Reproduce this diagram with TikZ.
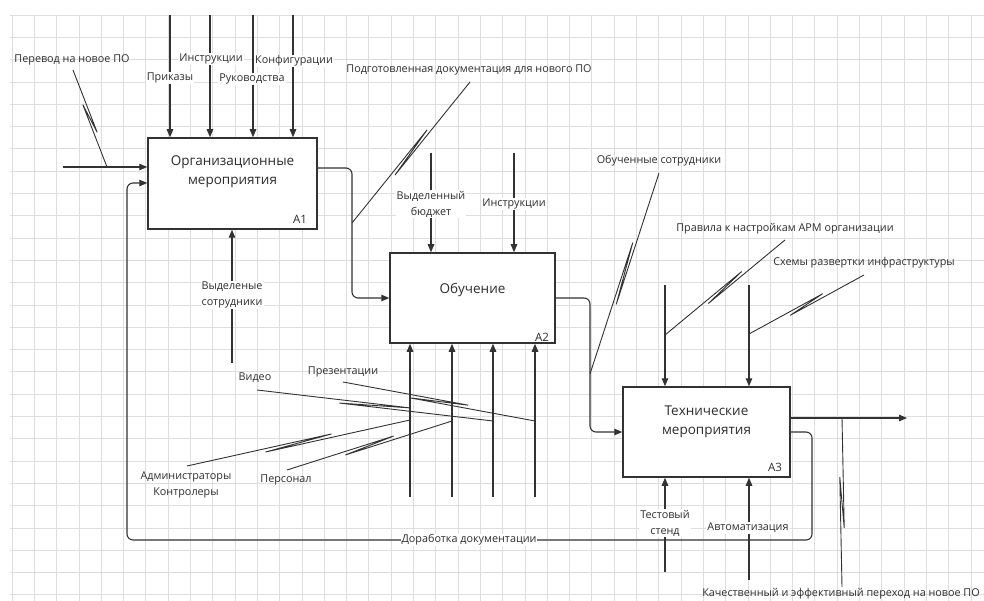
\documentclass[tikz,border=0pt]{standalone}
\usepackage{fontspec}
\setmainfont{Open Sans}
\usetikzlibrary{arrows.meta,calc}
\definecolor{lc}{RGB}{50,50,50}
\definecolor{tc}{RGB}{45,45,45}
\definecolor{gc}{RGB}{222,222,222}
\newcommand{\sqg}[2]{\draw[ln] (#1) -- ($(#1)!.65!(#2)!2.2pt!90:(#2)$) -- ($(#1)!.35!(#2)!2.2pt!-90:(#2)$) -- (#2);}
\begin{document}
\begin{tikzpicture}[x=1pt,y=-1pt,
  gridline/.style={draw=gc, line width=0.7pt},
  box/.style={draw=lc, line width=1.5pt, fill=white, inner sep=0pt},
  arr/.style={draw=lc, line width=1.1pt, -{Triangle[length=8pt,width=6.5pt]}},
  ln/.style={draw=lc, line width=0.9pt},
  rc/.style={rounded corners=6pt},
  lbl/.style={font=\fontsize{10.8}{16}\selectfont, text=tc, inner sep=1pt, align=center},
  wl/.style={lbl, fill=white},
  ttl/.style={font=\fontsize{13.5}{19}\selectfont, text=tc, align=center, inner sep=0pt},
  num/.style={font=\fontsize{11.5}{12}\selectfont, text=tc, inner sep=0pt}]
\useasboundingbox (0,0) rectangle (984,601);
\fill[white] (0,0) rectangle (984,601);
% grid
\foreach \i in {0,...,43} \draw[gridline] ({12+22.3*\i},15) -- ({12+22.3*\i},601);
\foreach \j in {0,...,26} \draw[gridline] (10,{15+22.3*\j}) -- (984,{15+22.3*\j});
% boxes
\node[box, minimum width=169pt, minimum height=91pt] (A1) at (232.5,183.5) {};
\node[box, minimum width=165pt, minimum height=90pt] (A2) at (472.5,298) {};
\node[box, minimum width=167pt, minimum height=90pt] (A3) at (706.5,432) {};
\node[ttl] (t1) at (232.5,171.5) {Организационные\\мероприятия};
\node[ttl] (t2) at (472.5,290) {Обучение};
\node[ttl] (t3) at (706.5,422) {Технические\\мероприятия};
\node[num] (n1) at (300,219) {A1};
\node[num] (n2) at (542,337) {A2};
\node[num] (n3) at (775,467) {A3};
% A1 input and loop
\coordinate (in1) at (63,167);
\draw[arr] (in1) -- (in1 -| A1.west);
\coordinate (lp1) at (812,540);
\coordinate (lp2) at (127,540);
\coordinate (lp3) at (127,183);
\draw[arr, rc] (A3.east) -- (A3.east -| lp1) -- (lp1) -- (lp2) -- (lp3) -- (lp3 -| A1.west);
% A1 -> A2
\coordinate (o1) at (352,168);
\draw[arr, rc] (o1 -| A1.east) -- (o1) -- (o1 |- A2.west) -- (A2.west);
% A2 -> A3
\coordinate (o2) at (590,298);
\draw[arr, rc] (A2.east) -- (o2) -- (o2 |- A3.west) -- (A3.west);
% A3 output
\coordinate (o3) at (907,418);
\draw[arr] (o3 -| A3.east) -- (o3);
% A1 controls
\foreach \x/\n in {170/a,210/b,253/c,293/d} {
  \coordinate (k1\n) at (\x,15);
  \draw[arr] (k1\n) -- (k1\n |- A1.north);
}
% A1 mechanism
\coordinate (m1) at (232,363);
\draw[arr] (m1) -- (m1 |- A1.south);
% A2 controls
\foreach \x/\n in {431/a,514/b} {
  \coordinate (k2\n) at (\x,153);
  \draw[arr] (k2\n) -- (k2\n |- A2.north);
}
% A2 mechanisms
\foreach \x/\n in {410/a,452/b,493/c,535/d} {
  \coordinate (m2\n) at (\x,497);
  \draw[arr] (m2\n) -- (m2\n |- A2.south);
}
% A3 controls
\foreach \x/\n in {665/a,749/b} {
  \coordinate (k3\n) at (\x,285);
  \draw[arr] (k3\n) -- (k3\n |- A3.north);
}
% A3 mechanisms
\coordinate (m3a) at (665,572);
\coordinate (m3b) at (749,580);
\draw[arr] (m3a) -- (m3a |- A3.south);
\draw[arr] (m3b) -- (m3b |- A3.south);
% leaders with squiggles
\coordinate (s1) at (73,70);   \coordinate (e1) at (107,167);
\coordinate (s2) at (470,82);  \coordinate (e2) at (352,223);
\coordinate (s3) at (659,173); \coordinate (e3) at (590,374);
\coordinate (s4) at (785,240); \coordinate (e4) at (665,335);
\coordinate (s5) at (864,275); \coordinate (e5) at (749,334);
\coordinate (s6) at (842,587); \coordinate (e6) at (842,418);
\coordinate (s7) at (257,390); \coordinate (e7) at (493,421);
\coordinate (s8) at (343,382); \coordinate (e8) at (535,421);
\coordinate (s9) at (187,466); \coordinate (e9) at (410,420);
\coordinate (s10) at (287,470); \coordinate (e10) at (452,421);
\sqg{s1}{e1}
\sqg{s2}{e2}
\sqg{s3}{e3}
\sqg{s4}{e4}
\sqg{s5}{e5}
\sqg{s6}{e6}
\sqg{s7}{e7}
\sqg{s8}{e8}
\sqg{s9}{e9}
\sqg{s10}{e10}
% labels
\node[lbl] (L1) at (72,60) {Перевод на новое ПО};
\node[wl] (L2) at (170,78) {Приказы};
\node[wl] (L3) at (211,59) {Инструкции};
\node[wl] (L4) at (252,79) {Руководства};
\node[wl] (L5) at (294,61) {Конфигурации};
\node[lbl] (L6) at (469,70) {Подготовленная документация для нового ПО};
\node[wl] (L7) at (232,295) {Выделеные\\сотрудники};
\node[wl] (L8) at (431,204) {Выделенный\\бюджет};
\node[wl] (L9) at (514,204) {Инструкции};
\node[lbl] (L10) at (659,161) {Обученные сотрудники};
\node[lbl] (L11) at (785,229) {Правила к настройкам АРМ организации};
\node[lbl] (L12) at (864,263) {Схемы развертки инфраструктуры};
\node[lbl] (L13) at (255,378) {Видео};
\node[lbl] (L14) at (343,372) {Презентации};
\node[lbl] (L15) at (186,485) {Администраторы\\Контролеры};
\node[lbl] (L16) at (286,480) {Персонал};
\node[wl] (L17) at (665,523) {Тестовый\\стенд};
\node[wl] (L18) at (748,528) {Автоматизация};
\node[wl] (L19) at (469,540) {Доработка документации};
\node[lbl] (L20) at (841,594) {Качественный и эффективный переход на новое ПО};
\end{tikzpicture}
\end{document}
